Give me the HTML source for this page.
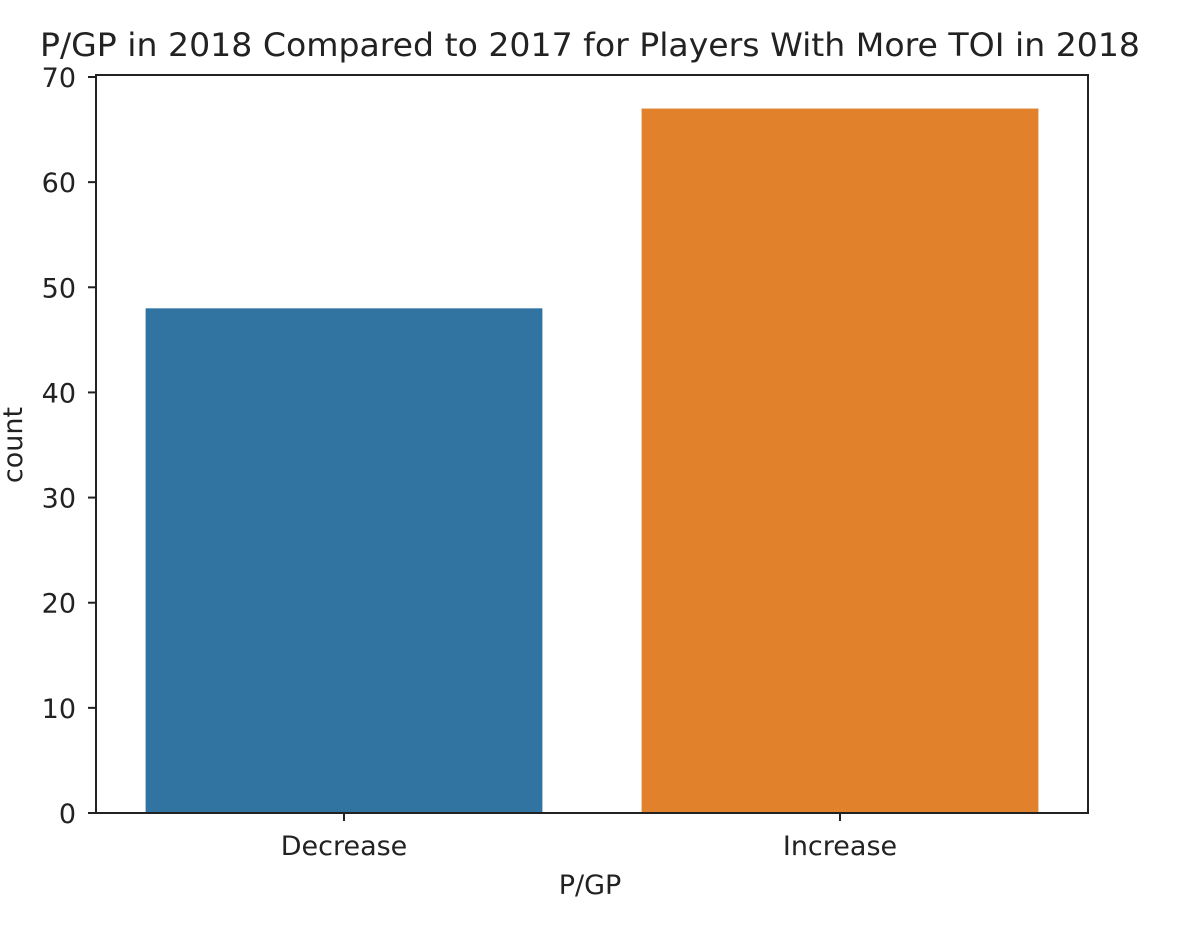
<!DOCTYPE html>
<html><head><meta charset="utf-8"><style>
body{margin:0;background:#fff;}
svg{display:block;font-family:"DejaVu Sans","Liberation Sans",sans-serif;}
</style></head><body>
<svg id="chart" width="1195" height="935">
<text x="590" y="56" font-size="32" text-anchor="middle" textLength="1100" lengthAdjust="spacingAndGlyphs" fill="#222">P/GP in 2018 Compared to 2017 for Players With More TOI in 2018</text>
<g id="bars"></g>
<g id="yticks"></g>
<g id="xticks"></g>
<rect x="96" y="75" width="992" height="738" fill="none" stroke="#222" stroke-width="2"/>
<text x="590" y="894" font-size="27" text-anchor="middle" fill="#222">P/GP</text>
<text transform="translate(22,445) rotate(-90)" font-size="27" text-anchor="middle" fill="#222">count</text>
</svg>
<script>
const categories=["Decrease","Increase"];
const counts=[48,67];
const colors=["#3274a1","#e1812c"];
const yTicks=[0,10,20,30,40,50,60,70];
const L=96,R=1088,Y0=813,Y70=77;
function y(v){return Y0-(Y0-Y70)*v/70;}
const band=(R-L)/categories.length;
function xc(i){return L+band*(i+0.5);}
const ns="http://www.w3.org/2000/svg";
const bars=document.getElementById('bars'),yt=document.getElementById('yticks'),xt=document.getElementById('xticks');
categories.forEach((c,i)=>{
 const r=document.createElementNS(ns,'rect');
 const w=band*0.8;
 r.setAttribute('x',xc(i)-w/2);r.setAttribute('y',y(counts[i]));
 r.setAttribute('width',w);r.setAttribute('height',Y0-y(counts[i]));
 r.setAttribute('fill',colors[i]);
 
 
 bars.appendChild(r);
 const l=document.createElementNS(ns,'line');
 l.setAttribute('x1',xc(i));l.setAttribute('x2',xc(i));l.setAttribute('y1',Y0);l.setAttribute('y2',Y0+8);
 l.setAttribute('stroke','#222');l.setAttribute('stroke-width','2');
 
 
 xt.appendChild(l);
 const t=document.createElementNS(ns,'text');
 t.setAttribute('x',xc(i));t.setAttribute('y',Y0+42);t.setAttribute('font-size','27');
 t.setAttribute('text-anchor','middle');t.setAttribute('fill','#222');t.textContent=c;
 
 
 xt.appendChild(t);
});
yTicks.forEach(v=>{
 const l=document.createElementNS(ns,'line');
 l.setAttribute('x1',L-8);l.setAttribute('x2',L);l.setAttribute('y1',y(v));l.setAttribute('y2',y(v));
 l.setAttribute('stroke','#222');l.setAttribute('stroke-width','2');
 
 
 yt.appendChild(l);
 const t=document.createElementNS(ns,'text');
 t.setAttribute('x',L-20);t.setAttribute('y',y(v)+10);t.setAttribute('font-size','27');
 t.setAttribute('text-anchor','end');t.setAttribute('fill','#222');t.textContent=v;
 
 
 yt.appendChild(t);
});
</script>
</body></html>
